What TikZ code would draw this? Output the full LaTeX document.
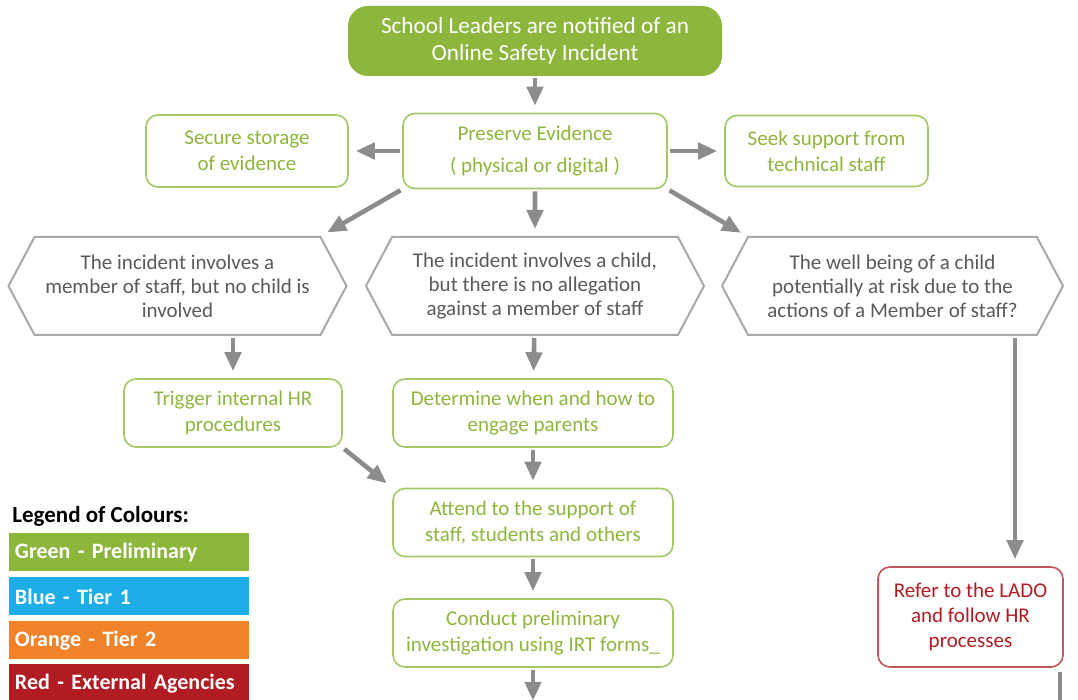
\documentclass[tikz,border=0pt]{standalone}
\usepackage{fontspec}
\setmainfont{Carlito}
\usetikzlibrary{arrows.meta,shapes.symbols}

\definecolor{leafgreen}{HTML}{8DB63C}
\definecolor{linegreen}{HTML}{A3C866}
\definecolor{arrowgrey}{HTML}{8C8C8C}
\definecolor{hexgrey}{HTML}{A8A8A8}
\definecolor{textgrey}{HTML}{5A5A5A}
\definecolor{tierblue}{HTML}{1DAEE8}
\definecolor{tierorange}{HTML}{F0822A}
\definecolor{agencyred}{HTML}{B01C22}

\begin{document}
\begin{tikzpicture}[x=0.5pt,y=-0.5pt,->,>={Triangle[length=9.5pt,width=8pt]},
  shorten >=3.5pt,shorten <=1pt,auto,node distance=55pt,
  start node/.style={rectangle,rounded corners=10pt,fill=leafgreen,
    text=white,align=center,font=\fontsize{11.6}{13.5}\selectfont,
    minimum width=187pt,minimum height=35pt},
  green node/.style={rectangle,rounded corners=6pt,draw=linegreen,line width=0.8pt,
    text=leafgreen,align=center,font=\fontsize{10.5}{13}\selectfont,
    minimum height=34pt,inner sep=2pt},
  hex node/.style={signal,signal to=west and east,signal pointer angle=124,
    draw=hexgrey,line width=1pt,fill=white,text=textgrey,align=center,
    font=\fontsize{10.5}{12}\selectfont,
    minimum width=169pt,minimum height=49pt,inner sep=1pt},
  red node/.style={rectangle,rounded corners=6pt,draw=agencyred!75,line width=0.8pt,
    text=agencyred,align=center,font=\fontsize{10.5}{12.5}\selectfont,
    minimum width=92.5pt,minimum height=50pt,inner sep=2pt},
  legend node/.style={rectangle,text=white,font=\bfseries\fontsize{11}{12}\selectfont,
    minimum width=120pt,minimum height=19pt,text width=114pt,align=left,inner xsep=3pt}]

  \clip (0,0) rectangle (1078,700);

  % flow chart
  \node[start node] (TOP) at (535,41) {School Leaders are notified of an\\Online Safety Incident};
  \node[green node] (PRES) [below of=TOP,minimum width=132pt,minimum height=37.5pt]
    {Preserve Evidence\\[3pt]( physical or digital )};
  \node[green node] (SECURE) [node distance=144pt,left of=PRES,minimum width=101pt,minimum height=36pt]
    {Secure storage\\of evidence};
  \node[green node] (SEEK) [node distance=145.75pt,right of=PRES,minimum width=101.5pt,minimum height=35.5pt]
    {Seek support from\\technical staff};

  \node[hex node] (HEXM) [node distance=67.5pt,below of=PRES]
    {The incident involves a child,\\but there is no allegation\\against a member of staff};
  \node[hex node] (HEXL) [node distance=178.75pt,left of=HEXM]
    {The incident involves a\\member of staff, but no child is\\involved};
  \node[hex node] (HEXR) [node distance=178.75pt,right of=HEXM,minimum width=170.5pt]
    {The well being of a child\\potentially at risk due to the\\actions of a Member of staff?};

  \node[green node] (TRIGGER) [node distance=63.5pt,below of=HEXL,xshift=27.75pt,minimum width=109pt]
    {Trigger internal HR\\procedures};
  \node[green node] (ENGAGE) [node distance=63.5pt,below of=HEXM,xshift=-1pt,minimum width=140pt]
    {Determine when and how to\\engage parents};
  \node[green node] (SUPPORT) [node distance=54.75pt,below of=ENGAGE,minimum width=140pt]
    {Attend to the support of\\staff, students and others};
  \node[green node] (CONDUCT) [node distance=55.25pt,below of=SUPPORT,minimum width=140pt]
    {Conduct preliminary\\investigation using IRT forms\_};
  \node[red node] (LADO) [node distance=165.5pt,below of=HEXR,xshift=39pt]
    {Refer to the LADO\\and follow HR\\processes};

  \coordinate (CONDUCTOUT) at ([yshift=-20pt]CONDUCT.south);
  \coordinate (LADOTOP) at ([xshift=61.25pt]HEXR.south);
  \coordinate (LADOOUT) at ([xshift=44.75pt,yshift=-20pt]LADO.south);

  \path[every edge/.style={draw=arrowgrey,line width=2.3pt}]
    (TOP) edge (PRES)
    (PRES) edge (SECURE)
    (PRES) edge (SEEK)
    (PRES.south west) edge (HEXL.north east)
    (PRES) edge (HEXM)
    (PRES.south east) edge (HEXR.north west)
    (HEXL.south -| TRIGGER.north) edge (TRIGGER)
    (HEXM) edge (ENGAGE)
    (ENGAGE) edge (SUPPORT)
    (TRIGGER.south east) edge (SUPPORT.north west)
    (SUPPORT) edge (CONDUCT)
    (CONDUCT) edge (CONDUCTOUT)
    (LADOTOP) edge (LADOTOP |- LADO.north)
    ;
  \draw[-,arrowgrey,line width=2.3pt,shorten <=2pt] (LADOOUT |- LADO.south) -- (LADOOUT);

  % legend
  \node[font=\bfseries\fontsize{11.5}{12}\selectfont,anchor=west,inner sep=0pt] (LEGEND) at (12,516)
    {Legend of Colours:};
  \node[legend node,fill=leafgreen] (LEGGREEN) at (129,552.5) {Green - Preliminary};
  \node[legend node,fill=tierblue] (LEGBLUE) [node distance=22pt,below of=LEGGREEN] {Blue - Tier 1};
  \node[legend node,fill=tierorange] (LEGORANGE) [node distance=22pt,below of=LEGBLUE] {Orange - Tier 2};
  \node[legend node,fill=agencyred] (LEGRED) [node distance=21.5pt,below of=LEGORANGE] {Red - External Agencies};
\end{tikzpicture}
\end{document}
